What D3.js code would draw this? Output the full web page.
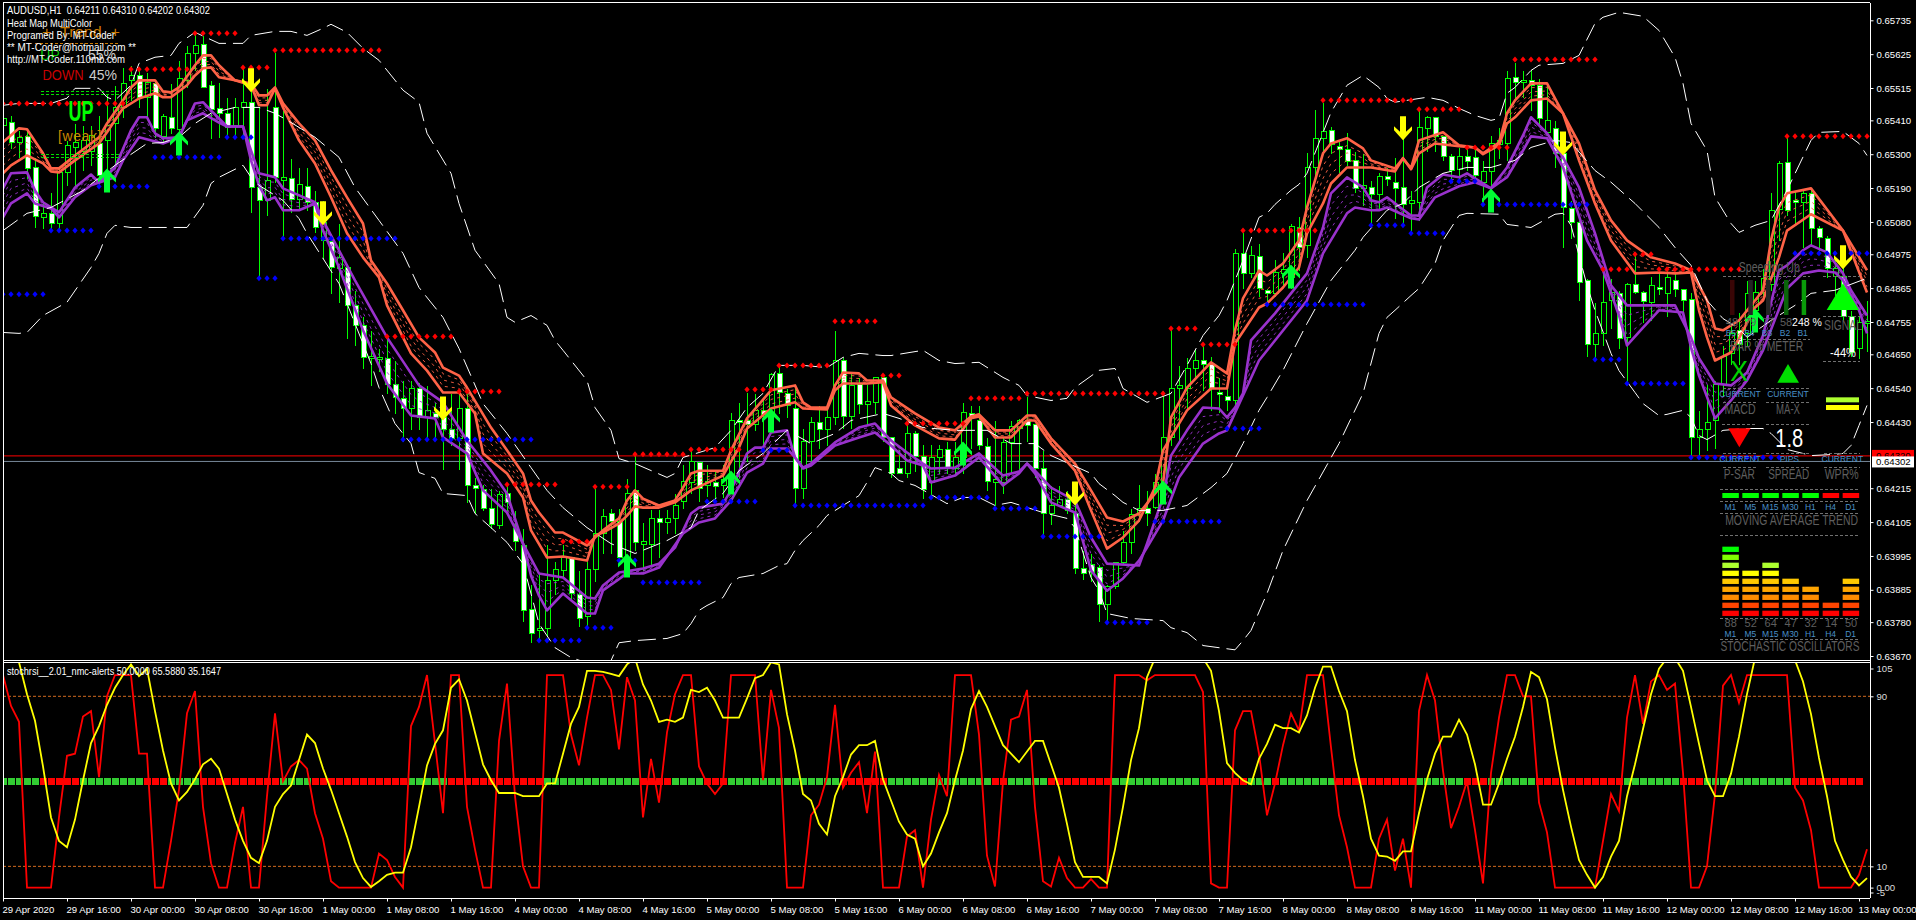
<!DOCTYPE html>
<html><head><meta charset="utf-8">
<style>html,body{margin:0;padding:0;background:#000;overflow:hidden}svg{display:block}text{font-family:"Liberation Sans",Arial,sans-serif;white-space:pre}</style>
<script src="https://cdnjs.cloudflare.com/ajax/libs/d3/7.8.5/d3.min.js"></script>
</head><body><svg id="c" width="1916" height="920"></svg>
<script>
// All prices are in points (1e-5).
const candleKinds="GWGWWGWGGG GGWGGGGWGW GWGGGWWWWG GWWGWGWGWW GWGWWWGGWW WGWGWWWGWW WWGWWWWGGG GWWGGGWWGW GGWGGGGWGW GGWWGWGWWW GGWGGWGWGG WWWGWWGGWG GWWWGGGGWW WGGWWWWWGG GGGWGGGGGG WWWWGWGWWG GGWGGGWWWW GWGWWWGGGW WWGWWGGGGW GWWGWWWWWG GGWGWWGWGW WWGGGGGWGG GGGWWGWWWG WWGG".replace(/ /g,"").split("");
const bodyTop=[65417,65404,65355,65358,65257,65108,65108,65241,65329,65339,65345,65361,65335,65394,65452,65530,65556,65556,65534,65530,65423,65420,65546,65628,65654,65657,65524,65449,65433,65452,65469,65469,65192,65215,65452,65225,65222,65202,65196,65144,65079,65017,64965,64932,64809,64744,64643,64640,64637,64552,64507,64542,64539,64468,64458,64445,64406,64477,64474,64227,64214,64152,64195,64198,64087,64029,63824,63762,63918,63951,63996,63990,63873,63951,64068,64126,64133,64110,64201,64208,64045,64117,64117,64117,64159,64237,64305,64299,64240,64234,64246,64435,64438,64438,64468,64468,64585,64588,64523,64477,64367,64429,64429,64445,64633,64633,64549,64555,64497,64575,64575,64383,64282,64393,64393,64321,64318,64344,64344,64318,64461,64458,64435,64351,64246,64364,64416,64435,64435,64425,64282,64162,64181,64181,64136,63957,63970,63960,63899,63974,64039,64130,64152,64152,64234,64380,64539,64549,64604,64633,64630,64620,64526,64516,64978,64978,64971,64968,64858,64916,64926,65066,65062,65257,65352,65374,65378,65326,65316,65280,65199,65192,65228,65228,65209,65192,65150,65387,65420,65420,65358,65293,65293,65293,65290,65244,65338,65345,65546,65550,65540,65540,65524,65410,65384,65303,65124,65079,64890,64718,64819,64851,64848,64880,64877,64851,64874,64870,64900,64893,64861,64831,64409,64429,64555,64646,64718,64728,64848,64851,64897,65118,65270,65274,65150,65173,65173,65059,65027,64929,64906,64773,64754,64757];
const bodyBottom=[65394,65339,65339,65254,65098,65095,65075,65075,65241,65322,65312,65312,65231,65345,65400,65452,65540,65485,65485,65384,65358,65384,65381,65540,65628,65517,65446,65433,65387,65394,65452,65192,65150,65150,65225,65215,65153,65153,65144,65062,65020,64932,64929,64809,64744,64640,64640,64637,64552,64510,64474,64474,64445,64445,64445,64406,64377,64377,64224,64217,64152,64100,64094,64169,64042,63821,63746,63756,63762,63918,63948,63876,63795,63801,63951,64068,64110,63990,63990,64039,64035,64035,64104,64104,64117,64172,64234,64217,64224,64221,64224,64250,64432,64425,64425,64455,64461,64526,64484,64217,64217,64367,64409,64409,64445,64451,64451,64490,64487,64494,64380,64266,64266,64263,64321,64211,64234,64318,64282,64282,64318,64445,64354,64240,64234,64234,64364,64412,64419,64282,64133,64133,64162,64143,63957,63941,63944,63840,63840,63899,63974,64039,64130,64136,64155,64217,64380,64539,64539,64604,64620,64539,64520,64500,64500,64913,64913,64864,64848,64848,64913,64900,64997,65004,65257,65352,65332,65316,65277,65189,65189,65170,65170,65218,65189,65137,65140,65144,65384,65358,65293,65248,65251,65277,65231,65209,65244,65332,65338,65534,65537,65524,65417,65371,65303,65127,65079,64884,64682,64682,64718,64828,64702,64705,64851,64822,64819,64867,64848,64861,64828,64380,64380,64409,64438,64555,64653,64685,64718,64793,64851,64880,65121,65118,65144,65144,65059,65030,64929,64906,64773,64656,64672,64754];
const wickHigh=[65465,65426,65378,65378,65290,65140,65176,65254,65345,65400,65394,65394,65426,65498,65524,65582,65589,65579,65566,65540,65433,65530,65605,65654,65693,65686,65540,65534,65485,65485,65579,65573,65452,65514,65631,65443,65287,65257,65257,65183,65150,65043,65075,64945,64858,64776,64728,64672,64702,64630,64565,64565,64559,64549,64494,64494,64523,64523,64523,64250,64230,64217,64208,64224,64143,64087,63905,63938,64035,63980,64035,63996,63948,63980,64217,64152,64152,64152,64247,64328,64104,64149,64149,64149,64198,64295,64338,64305,64295,64272,64295,64461,64494,64526,64523,64510,64591,64620,64542,64542,64412,64451,64484,64484,64728,64640,64591,64575,64555,64581,64581,64386,64344,64425,64403,64360,64360,64360,64370,64370,64494,64484,64484,64380,64435,64380,64435,64442,64516,64425,64338,64224,64224,64208,64169,64013,64003,63970,63905,63980,64078,64152,64230,64208,64266,64533,64734,64614,64640,64669,64679,64646,64575,64565,64994,65046,65004,65010,64867,64958,64981,65075,65098,65306,65446,65469,65391,65345,65371,65312,65303,65215,65241,65257,65290,65352,65183,65443,65426,65420,65361,65303,65322,65322,65322,65280,65361,65387,65573,65599,65573,65576,65546,65524,65410,65355,65150,65085,64897,64819,64916,64897,64858,64884,64971,64858,64906,64929,64929,64913,64864,64851,64468,64555,64565,64679,64744,64786,64890,64890,64929,65176,65280,65361,65183,65189,65189,65069,65036,64965,64955,64793,64776,64825];
const wickLow=[65312,65319,65290,65222,65062,65059,65059,65059,65199,65199,65248,65264,65192,65248,65264,65420,65475,65452,65420,65355,65335,65368,65345,65517,65573,65517,65352,65355,65352,65352,65355,65111,64897,65101,65209,65030,65111,65118,65118,65046,64962,64848,64819,64702,64679,64604,64549,64597,64523,64458,64370,64409,64409,64380,64377,64279,64354,64279,64169,64133,64143,64087,64087,64143,64013,63785,63714,63720,63736,63873,63925,63860,63769,63769,63915,64003,64003,63980,63957,64013,63948,63964,63990,64068,64068,64152,64198,64175,64191,64175,64185,64208,64250,64305,64403,64347,64403,64458,64445,64165,64182,64305,64347,64354,64425,64412,64412,64458,64419,64458,64370,64250,64263,64250,64272,64182,64185,64263,64263,64263,64263,64347,64344,64208,64159,64198,64263,64263,64370,64250,64061,64100,64159,64136,63938,63921,63915,63785,63785,63892,63970,64006,64110,64094,64152,64185,64354,64370,64468,64575,64533,64468,64461,64468,64468,64867,64900,64841,64819,64841,64874,64867,64923,64965,65225,65312,65303,65241,65264,65176,65134,65075,65118,65199,65092,65069,65053,65085,65312,65312,65280,65215,65209,65248,65225,65140,65189,65287,65280,65475,65485,65443,65394,65361,65257,64997,65027,64825,64646,64637,64679,64737,64669,64555,64848,64754,64760,64845,64776,64841,64760,64315,64315,64338,64347,64516,64620,64620,64679,64744,64825,64858,65020,65101,65069,64997,65004,64988,64900,64825,64760,64646,64637,64662];

const maFastUpper=[[0,65339],[2,65384],[3,65381],[5,65303],[6,65254],[7,65254],[9,65296],[12,65355],[13,65400],[15,65475],[16,65517],[17,65540],[19,65540],[20,65504],[21,65501],[22,65517],[24,65589],[25,65621],[26,65621],[27,65589],[29,65540],[31,65530],[32,65491],[33,65491],[34,65517],[35,65465],[37,65400],[39,65345],[41,65248],[43,65160],[45,65075],[46,64955],[48,64880],[50,64793],[52,64705],[54,64656],[55,64607],[57,64581],[58,64542],[61,64412],[63,64338],[65,64263],[66,64175],[67,64136],[69,64071],[70,64071],[73,64029],[74,64055],[75,64078],[77,64117],[78,64175],[79,64208],[80,64181],[82,64159],[84,64175],[85,64217],[86,64263],[87,64272],[90,64272],[91,64338],[93,64442],[96,64533],[99,64549],[100,64494],[101,64477],[103,64477],[104,64549],[105,64591],[107,64588],[108,64565],[110,64565],[111,64510],[114,64458],[117,64412],[119,64403],[121,64448],[122,64455],[124,64403],[126,64403],[128,64451],[129,64451],[131,64377],[134,64295],[136,64208],[138,64120],[140,64107],[142,64133],[145,64230],[146,64445],[148,64542],[151,64624],[153,64588],[154,64728],[155,64832],[157,64922],[158,64906],[160,64945],[162,65020],[163,65127],[165,65303],[166,65335],[168,65352],[170,65319],[171,65280],[174,65254],[175,65287],[176,65254],[177,65345],[180,65371],[182,65329],[184,65322],[185,65303],[187,65338],[188,65433],[189,65475],[191,65530],[193,65530],[195,65433],[197,65335],[199,65183],[201,65085],[203,65020],[206,64965],[209,64945],[211,64923],[213,64825],[214,64734],[215,64728],[217,64760],[219,64825],[220,64858],[221,65020],[222,65127],[223,65173],[226,65189],[230,65052],[233,64923]];
const maFastLower=[[0,65238],[1,65264],[3,65296],[5,65270],[6,65244],[7,65241],[9,65280],[12,65335],[13,65371],[15,65449],[17,65481],[19,65498],[20,65485],[21,65485],[23,65524],[24,65556],[25,65579],[26,65582],[27,65550],[29,65540],[31,65524],[32,65459],[33,65459],[34,65514],[35,65452],[37,65345],[39,65270],[41,65160],[43,65043],[45,64965],[47,64900],[48,64809],[51,64653],[53,64597],[55,64526],[57,64526],[59,64458],[60,64328],[63,64263],[65,64185],[66,64078],[68,63990],[70,63993],[73,63980],[74,64061],[75,64071],[77,64100],[78,64126],[79,64156],[80,64152],[82,64152],[84,64169],[86,64208],[90,64256],[92,64347],[93,64409],[96,64474],[99,64494],[100,64474],[103,64471],[104,64533],[105,64555],[108,64555],[110,64559],[111,64484],[114,64419],[117,64377],[119,64373],[121,64442],[122,64448],[124,64380],[126,64380],[128,64435],[129,64435],[131,64360],[134,64272],[136,64143],[138,64019],[140,64055],[142,64110],[144,64217],[145,64338],[148,64468],[151,64539],[153,64539],[154,64685],[157,64802],[158,64815],[160,64867],[162,64932],[163,65043],[165,65140],[166,65205],[168,65257],[171,65257],[174,65244],[175,65287],[176,65251],[177,65303],[179,65335],[182,65326],[184,65322],[185,65300],[187,65329],[188,65400],[189,65420],[191,65475],[193,65481],[195,65433],[197,65280],[199,65140],[201,65020],[204,64913],[207,64916],[209,64913],[211,64916],[212,64793],[213,64705],[214,64630],[216,64656],[217,64702],[219,64802],[220,64825],[222,64965],[223,65052],[226,65105],[230,65052],[233,64851]];
const maSlowUpper=[[0,65189],[1,65238],[3,65241],[4,65182],[5,65144],[7,65111],[9,65192],[11,65234],[12,65208],[14,65257],[16,65378],[17,65420],[18,65420],[19,65368],[20,65352],[22,65355],[24,65465],[25,65469],[26,65442],[28,65390],[30,65390],[31,65312],[32,65238],[34,65225],[35,65189],[39,65144],[40,65085],[44,64890],[48,64705],[52,64549],[55,64494],[58,64370],[61,64272],[63,64198],[65,64035],[67,63938],[70,63925],[73,63860],[74,63857],[75,63899],[77,63941],[80,63954],[82,63970],[84,64022],[86,64133],[87,64152],[90,64165],[91,64208],[93,64328],[94,64347],[95,64347],[96,64396],[98,64403],[99,64315],[100,64282],[101,64295],[104,64364],[107,64412],[109,64425],[111,64370],[113,64331],[115,64295],[116,64279],[119,64282],[122,64328],[125,64256],[127,64269],[128,64295],[129,64272],[131,64217],[134,64175],[136,64055],[138,63970],[142,63964],[143,64035],[145,64185],[146,64321],[148,64403],[150,64477],[152,64474],[153,64445],[154,64477],[155,64523],[156,64695],[159,64783],[163,64913],[165,65062],[166,65173],[168,65225],[170,65192],[171,65150],[172,65144],[173,65160],[176,65101],[177,65101],[178,65192],[180,65234],[182,65225],[183,65238],[186,65189],[188,65257],[190,65361],[191,65420],[193,65368],[195,65290],[197,65192],[199,65043],[201,64874],[203,64809],[209,64809],[211,64705],[212,64637],[214,64555],[216,64549],[218,64591],[220,64711],[222,64923],[223,64939],[225,64988],[226,65004],[228,64981],[230,64913],[231,64858],[233,64776]];
const maSlowLower=[[0,65095],[1,65140],[3,65173],[4,65140],[6,65124],[7,65095],[9,65160],[11,65199],[14,65225],[15,65280],[17,65355],[20,65335],[22,65355],[23,65410],[25,65433],[27,65403],[28,65390],[30,65390],[31,65280],[32,65199],[33,65150],[34,65160],[35,65118],[37,65118],[39,65140],[40,65052],[42,64932],[45,64728],[48,64555],[51,64451],[54,64442],[55,64380],[58,64328],[60,64208],[63,64136],[65,64035],[66,63931],[67,63866],[68,63818],[70,63873],[73,63808],[74,63808],[75,63883],[78,63938],[80,63938],[82,63957],[85,64068],[87,64104],[89,64117],[91,64175],[93,64266],[95,64295],[96,64344],[98,64344],[99,64315],[100,64279],[101,64289],[104,64354],[107,64380],[109,64396],[111,64354],[113,64305],[115,64289],[116,64234],[119,64256],[122,64315],[125,64224],[127,64263],[128,64295],[129,64263],[131,64169],[134,64136],[136,63948],[138,63882],[140,63922],[142,63980],[143,64022],[145,64110],[147,64250],[150,64360],[152,64393],[153,64403],[155,64516],[157,64630],[159,64695],[163,64825],[165,64978],[168,65108],[169,65127],[171,65118],[172,65118],[173,65127],[176,65092],[177,65088],[179,65160],[182,65196],[184,65209],[186,65189],[188,65225],[190,65312],[191,65358],[193,65352],[195,65257],[198,65020],[200,64923],[202,64776],[203,64679],[205,64737],[207,64793],[210,64786],[211,64672],[212,64581],[214,64442],[216,64500],[218,64565],[220,64663],[223,64864],[225,64913],[227,64922],[229,64916],[230,64890],[232,64793],[233,64718]];
const bollUpper=[[0,65459],[2,65465],[6,65465],[8,65482],[9,65514],[12,65514],[13,65485],[14,65475],[16,65524],[17,65595],[19,65615],[21,65621],[22,65660],[24,65696],[27,65660],[30,65660],[31,65686],[34,65699],[36,65699],[38,65686],[40,65709],[41,65722],[43,65696],[45,65644],[47,65605],[50,65508],[52,65469],[53,65368],[56,65238],[57,65140],[59,64988],[62,64880],[63,64770],[64,64754],[66,64776],[68,64744],[69,64695],[70,64663],[73,64565],[74,64477],[76,64403],[77,64311],[79,64295],[83,64250],[84,64263],[85,64315],[89,64347],[91,64403],[93,64477],[95,64523],[97,64614],[100,64614],[103,64607],[105,64640],[107,64653],[110,64646],[111,64646],[115,64663],[117,64630],[119,64620],[122,64624],[125,64575],[127,64549],[128,64516],[131,64500],[133,64507],[134,64542],[137,64598],[139,64604],[140,64539],[143,64494],[146,64523],[148,64614],[150,64711],[152,64776],[153,64825],[155,64955],[157,65095],[158,65108],[159,65137],[161,65183],[162,65202],[163,65238],[166,65436],[168,65524],[170,65556],[172,65517],[173,65481],[174,65469],[178,65485],[180,65475],[182,65449],[184,65426],[186,65410],[187,65416],[188,65498],[189,65517],[191,65572],[192,65589],[195,65595],[197,65621],[199,65725],[200,65745],[202,65761],[205,65748],[207,65702],[209,65615],[210,65530],[211,65400],[213,65312],[214,65160],[216,65075],[217,65046],[219,65069],[221,65085],[223,65183],[226,65345],[227,65371],[230,65374],[232,65335],[233,65296]];
const bollMiddle=[[0,65052],[3,65108],[6,65127],[10,65182],[14,65264],[18,65335],[20,65338],[22,65355],[24,65400],[26,65433],[29,65452],[32,65452],[34,65433],[36,65403],[39,65355],[42,65290],[44,65192],[47,65085],[50,64978],[52,64867],[55,64770],[57,64669],[60,64490],[63,64393],[66,64282],[68,64208],[70,64152],[73,64087],[76,64035],[79,64003],[83,64045],[86,64087],[87,64143],[90,64198],[92,64272],[95,64328],[98,64403],[101,64360],[104,64393],[106,64435],[110,64458],[112,64442],[115,64412],[119,64403],[123,64403],[126,64360],[129,64360],[131,64321],[136,64263],[137,64230],[139,64191],[140,64169],[142,64143],[145,64143],[148,64159],[151,64217],[153,64263],[155,64360],[157,64468],[158,64510],[160,64598],[163,64750],[166,64890],[169,64988],[170,65030],[173,65118],[175,65140],[177,65192],[180,65238],[183,65257],[186,65257],[189,65280],[191,65322],[194,65345],[196,65338],[199,65247],[201,65209],[204,65140],[207,65062],[209,64997],[211,64939],[213,64825],[215,64766],[217,64734],[218,64705],[221,64760],[224,64809],[226,64848],[229,64858],[233,64897]];
const bollLower=[[0,64721],[2,64718],[3,64721],[5,64776],[8,64819],[11,64932],[12,64978],[13,65043],[14,65069],[16,65062],[19,65062],[23,65062],[25,65134],[26,65205],[27,65225],[30,65264],[31,65225],[32,65199],[35,65150],[37,65091],[38,65043],[42,64880],[44,64750],[46,64620],[47,64542],[49,64425],[51,64360],[52,64266],[54,64247],[55,64198],[58,64191],[59,64133],[61,64087],[63,64039],[65,63970],[67,63775],[69,63697],[71,63665],[74,63639],[76,63655],[77,63713],[79,63720],[83,63727],[85,63743],[86,63775],[87,63818],[88,63834],[90,63860],[91,63905],[92,63925],[95,63938],[97,63964],[98,63970],[99,64013],[100,64045],[102,64094],[103,64126],[105,64159],[107,64191],[108,64234],[109,64282],[111,64263],[112,64240],[114,64224],[118,64165],[120,64185],[122,64185],[124,64159],[126,64169],[130,64136],[133,64117],[134,64087],[136,63925],[137,63882],[138,63808],[141,63792],[145,63785],[146,63762],[148,63746],[150,63704],[152,63697],[154,63690],[155,63720],[156,63753],[158,63873],[160,64013],[163,64175],[167,64360],[170,64523],[172,64718],[173,64770],[174,64793],[176,64841],[177,64864],[179,64945],[180,65020],[182,65101],[183,65108],[187,65105],[188,65072],[191,65062],[194,65105],[195,65108],[196,65069],[198,64874],[199,64793],[201,64653],[202,64597],[204,64526],[205,64490],[207,64451],[208,64455],[210,64468],[211,64445],[212,64386],[213,64373],[215,64403],[218,64409],[220,64409],[221,64393],[223,64341],[225,64328],[226,64321],[229,64325],[230,64328],[231,64354],[232,64419],[233,64484]];

const redDotRuns=[[0,15,65465],[16,23,65576],[24,29,65693],[30,33,65582],[34,47,65638],[48,56,64708],[57,62,64529],[63,69,64227],[70,73,64042],[74,78,64220],[79,85,64325],[86,92,64341],[93,96,64536],[97,103,64614],[104,109,64757],[110,112,64581],[113,120,64425],[121,127,64507],[128,145,64523],[146,149,64734],[150,154,64682],[155,164,65052],[165,176,65475],[177,182,65446],[183,188,65322],[189,199,65608],[200,203,64926],[204,206,64975],[207,217,64926],[223,233,65358]];
const blueDotRuns=[[0,5,64845],[6,11,65052],[12,18,65195],[19,27,65290],[28,31,65355],[32,34,64897],[35,49,65026],[50,66,64373],[67,72,63720],[73,76,63762],[77,79,63980],[80,87,63909],[88,94,64172],[95,98,64338],[99,115,64159],[116,123,64185],[124,129,64149],[130,137,64058],[138,143,63779],[144,152,64107],[153,157,64409],[158,170,64812],[171,175,65069],[176,180,65043],[181,184,65212],[185,198,65137],[199,202,64633],[203,210,64555],[211,222,64315],[224,233,64978]];
const upArrows=[[13,65215],[22,65335],[78,63964],[91,64234],[96,64435],[120,64328],[145,64201],[161,64903],[186,65150],[219,64760]];
const downArrows=[[31,65540],[40,65108],[55,64474],[134,64198],[175,65384],[195,65335],[230,64965]];

const stochK=[100,85.5,78,0,0,0,0,33,62,63,80.5,83,52,90,100,100,100,63,63,0,0,22,46,82,92.5,38,11.5,0,0,21,38,0,0,43,82,50,57,60,56,35,23,3,0,0,0,0,0,16,13,5,0,76,85,100,68,35,100,100,38,18,0,0,69,96,43,10,0,0,100,100,100,72,57.5,80,100,100,93,65,99,88,33,60.6,40,73,91,100,100,57,49,44,49,100,100,100,100,50.5,93,75,0,0,0,34,39,52,86,47,54,59,35,64,0,0,0,24,27,0,32,53,43,100,100,100,72,15,0.5,50,79,80.5,93,38,3,0.5,14,4.5,0,0,4,0,0,100,100,100,100,97.5,100,100,100,100,100,100,92,2,0,0,74,83,83,63,34,49,67,82,74,100,100,100,66,34,19,0,0,0,23,32,8,23,0,83,100,88,55,28,38,50,27,2,54,80,100,100,90,90,40,26,0,0,0,0,0,0,22,44,36,80,100,77,97,100,93,96,54,0,0,10,44,95,100,87,100,100,100,100,100,100,47,41,27,0,0,0,0,0,6,18];
const stochD=[115,112,106,91,78.5,57,33,22,19,32,50.5,68,76,86,94,100,105,99.5,103,83,64.5,49,41,45,51,58,60.6,56,44,32,22,14,11.5,22,38,44,48,60,72,68,56,46,35,24,12,4.5,0.3,3,6,7,7,19,38,57.5,67.6,74,94,98,88,73,58,50.5,44.5,44.5,44.5,43,43,43,49,49,63,77,85,102,102,101.5,100.6,99.5,105,108,95.6,88,78,79,78,80,93,92,94,88,80,80,80,89,98.5,100,106,105,81.6,64.5,44,41,30,25,43,52,62.6,67,67,69,51,41,31,25,23,10,16,26,35,50.5,64.5,84,92.5,85,76,67,63,59,64,69,69,58,47,30,12,5,5,5,2,18,38,60,75,99,108,110,115,115,115,112,108,102,83,58.6,54,50.5,48.6,60.6,67.6,76.6,75,75,73,81,94,104,104,92.5,83,60,43,23,15,14.6,12.6,17,17,35,51,63,71,71,79,72,58,39,39,49,60.6,71,85,101.5,99,88.6,66,46,28.7,13,6,0,5,14.6,22,43,58,74.6,91,103,108,108,102,85,67.6,50.5,43,43,53.6,71,91,108,112,112,110,110,107,97,81.6,61,43,22,13,5,1,4.5];
const midlineGreenRuns=[[0,4],[10,17],[21,24],[35,38],[51,55],[68,79],[84,87],[91,104],[111,123],[126,130],[139,149],[156,158],[160,166],[177,182],[186,191],[203,209],[213,223]];

const dateLabels=["29 Apr 2020","29 Apr 16:00","30 Apr 00:00","30 Apr 08:00","30 Apr 16:00","1 May 00:00","1 May 08:00","1 May 16:00","4 May 00:00","4 May 08:00","4 May 16:00","5 May 00:00","5 May 08:00","5 May 16:00","6 May 00:00","6 May 08:00","6 May 16:00","7 May 00:00","7 May 08:00","7 May 16:00","8 May 00:00","8 May 08:00","8 May 16:00","11 May 00:00","11 May 08:00","11 May 16:00","12 May 00:00","12 May 08:00","12 May 16:00","13 May 00:00"];
const priceTicks=[65735,65625,65515,65410,65300,65190,65080,64975,64865,64755,64650,64540,64430,64215,64105,63995,63885,63780,63670];
const bidPrice=64320, lastPrice=64302;
const oscTicks=[["105",105],["90",90],["10",10],["0.00",0],["-5",-2.3]];
const tfLabels=["M1","M5","M15","M30","H1","H4","D1"];
const maTrendUp=[true,true,true,true,true,false,false];
const stochValues=[88,52,64,47,32,14,50];
const stochLevels=[9,6,7,5,4,2,5];
const stochLevelColors=["#ff0000","#ff4500","#ff8c00","#ffa500","#ffc800","#ffff00","#adff2f","#7fff00","#00ff00"];
const barMeterLabels=["B5","B4","B3","B2","B1"];
const barMeterValues=["48","79","77","58","248"];
const barMeterColors=["#3a0606","#242424","#242424","#0a640a","#0a9c0a"];

const W=1916,H=920,L=3,R=1870;
const svg=d3.select("#c");
svg.append("rect").attr("width",W).attr("height",H).attr("fill","#000");
const defs=svg.append("defs");
defs.append("clipPath").attr("id","cm").append("rect").attr("x",L).attr("y",3).attr("width",R-L).attr("height",657);
defs.append("clipPath").attr("id","cs").append("rect").attr("x",L).attr("y",663).attr("width",R-L).attr("height",235);

const x=d3.scaleLinear().domain([0,232]).range([3,1859]);
const y=d3.scaleLinear().domain([65735,63670]).range([20.3,656]);
const yo=d3.scaleLinear().domain([0,90]).range([887.6,696.3]);
const px=v=>Math.round(x(v))+.5, py=v=>Math.round(y(v))+.5;
const main=svg.append("g").attr("clip-path","url(#cm)");
const sub=svg.append("g").attr("clip-path","url(#cs)");

// Horizontal price lines
main.append("line").attr("x1",L).attr("x2",R).attr("y1",y(bidPrice)).attr("y2",y(bidPrice)).attr("stroke","#ff0000");
main.append("line").attr("x1",L).attr("x2",R).attr("y1",y(lastPrice)).attr("y2",y(lastPrice)).attr("stroke","#778899");

// Candles
const idx=d3.range(candleKinds.length);
const cg=main.append("g").attr("shape-rendering","crispEdges");
cg.selectAll("line").data(idx).join("line")
 .attr("x1",px).attr("x2",px).attr("y1",i=>py(wickHigh[i])).attr("y2",i=>py(wickLow[i])).attr("stroke","#00ff00");
cg.selectAll("rect").data(idx).join("rect")
 .attr("x",i=>px(i)-2.5).attr("width",5).attr("y",i=>py(bodyTop[i]))
 .attr("height",i=>Math.max(2,py(bodyBottom[i])-py(bodyTop[i])))
 .attr("fill",i=>candleKinds[i]==="W"?"#fff":"#000").attr("stroke","#00ff00");

// Moving-average ribbons
const ln=d3.line().x(d=>x(d[0])).y(d=>y(d[1]));
function ribbon(a,b,col,w){
  const sa=d3.scaleLinear().domain(a.map(d=>d[0])).range(a.map(d=>d[1]));
  const sb=d3.scaleLinear().domain(b.map(d=>d[0])).range(b.map(d=>d[1]));
  [0.25,0.5,0.75].forEach(t=>{
    const m=idx.map(i=>[i,sa(i)*(1-t)+sb(i)*t]);
    main.append("path").attr("d",ln(m)).attr("fill","none").attr("stroke",col).attr("stroke-width",.9).attr("stroke-dasharray","3,4");
  });
  [a,b].forEach(s=>main.append("path").attr("d",ln(s)).attr("fill","none").attr("stroke",col).attr("stroke-width",w).attr("stroke-linejoin","round"));
}
ribbon(maFastUpper,maFastLower,"#ff6347",2.6);
ribbon(maSlowUpper,maSlowLower,"#9932cc",2.6);

// Bollinger
[bollUpper,bollMiddle,bollLower].forEach(s=>main.append("path").attr("d",ln(s)).attr("fill","none").attr("stroke","#fff").attr("stroke-width",1).attr("stroke-dasharray","18,7"));

// Level dots
const diamond="M0,-3L2.6,0L0,3L-2.6,0Z";
function dots(runs,col){
  const pts=runs.flatMap(r=>d3.range(r[0],r[1]+1).map(i=>[i,r[2]]));
  main.append("g").selectAll("path").data(pts).join("path").attr("d",diamond)
    .attr("transform",d=>`translate(${x(d[0])},${y(d[1])})`).attr("fill",col);
}
dots(redDotRuns,"#ff0000");dots(blueDotRuns,"#0000ff");

// Arrows
const arrowPath="M0,-12L9,-2L9,2L3,-3.5L3,12L-3,12L-3,-3.5L-9,2L-9,-2Z";
main.append("g").selectAll("path").data(upArrows).join("path").attr("d",arrowPath).attr("fill","#00ff33")
  .attr("transform",d=>`translate(${x(d[0])},${y(d[1])})`);
main.append("g").selectAll("path").data(downArrows).join("path").attr("d",arrowPath).attr("fill","#ffff00")
  .attr("transform",d=>`translate(${x(d[0])},${y(d[1])}) rotate(180)`);

// Oscillator
[90,10].forEach(v=>sub.append("line").attr("x1",L).attr("x2",R).attr("y1",yo(v)).attr("y2",yo(v)).attr("stroke","#d2691e").attr("stroke-dasharray","3,2"));
const isGreen=i=>midlineGreenRuns.some(r=>i>=r[0]&&i<=r[1]);
sub.append("g").attr("shape-rendering","crispEdges").selectAll("rect").data(idx.slice(0,233)).join("rect")
  .attr("x",i=>Math.round(x(i))-3).attr("width",6.5).attr("y",777.5).attr("height",7.5)
  .attr("fill",i=>isGreen(i)?"#32cd32":"#ff0000");
const oline=d3.line().x((d,i)=>x(i)).y(d=>yo(d));
sub.append("path").attr("d",oline(stochK)).attr("fill","none").attr("stroke","#ff0000").attr("stroke-width",1.8);
sub.append("path").attr("d",oline(stochD)).attr("fill","none").attr("stroke","#ffff00").attr("stroke-width",1.8);

// Frames
const fr=svg.append("g").attr("stroke","#fff").attr("shape-rendering","crispEdges");
[[L,2.5,R,2.5],[L,660.5,R,660.5],[L,662.5,R,662.5],[L+.5,2.5,L+.5,898],[R+.5,2.5,R+.5,898]].forEach(a=>fr.append("line").attr("x1",a[0]).attr("y1",a[1]).attr("x2",a[2]).attr("y2",a[3]));

// Axes
const AF=9.6;
const ay=svg.append("g").attr("transform",`translate(${R+.5},0)`).call(d3.axisRight(y).tickValues(priceTicks).tickSize(3).tickPadding(3).tickFormat(v=>(v/1e5).toFixed(5)));
ay.select(".domain").remove();ay.selectAll("line").attr("stroke","#fff");ay.selectAll("text").attr("fill","#fff").attr("font-size",AF).attr("font-family","Liberation Sans");
const ax=svg.append("g").attr("transform","translate(0,898.5)").call(d3.axisBottom(x).tickValues(dateLabels.map((d,i)=>i*8)).tickSize(3).tickPadding(5).tickFormat((d,i)=>dateLabels[i]));
ax.select(".domain").attr("stroke","#fff").attr("d",`M${L},0H${R}`);ax.selectAll("line").attr("stroke","#fff");
ax.selectAll("text").attr("fill","#fff").attr("font-size",AF).attr("font-family","Liberation Sans").attr("text-anchor","start").attr("dx",-1);
const ao=svg.append("g").attr("transform",`translate(${R+.5},0)`).call(d3.axisRight(yo).tickValues(oscTicks.map(d=>d[1])).tickSize(3).tickPadding(3).tickFormat((d,i)=>oscTicks[i][0]));
ao.select(".domain").remove();ao.selectAll("line").attr("stroke","#fff");ao.selectAll("text").attr("fill","#ddd").attr("font-size",AF).attr("font-family","Liberation Sans");
ao.selectAll(".tick").filter((d,i)=>i===0).attr("transform",`translate(0,669)`);

// price boxes
const bx=svg.append("g").attr("font-size",AF).attr("font-family","Liberation Sans");
bx.append("rect").attr("x",R+2).attr("y",y(bidPrice)-6).attr("width",42).attr("height",10).attr("fill","#ff0000");
bx.append("text").attr("x",R+6).attr("y",y(bidPrice)+3).attr("fill","#000").text((bidPrice/1e5).toFixed(5));
bx.append("rect").attr("x",R+2).attr("y",y(lastPrice)-5).attr("width",42).attr("height",11).attr("fill","#fff");
bx.append("text").attr("x",R+6).attr("y",y(lastPrice)+4).attr("fill","#000").text((lastPrice/1e5).toFixed(5));

// text helpers
const t=svg.append("g");
function T(s,xx,yy,fs,col,opt={}){const e=t.append("text").attr("x",xx).attr("y",yy).attr("font-size",fs).attr("fill",col).attr("dominant-baseline","middle").text(s);
  if(opt.a)e.attr("text-anchor",opt.a);if(opt.b)e.attr("font-weight","bold");if(opt.ls)e.attr("letter-spacing",opt.ls);
  if(opt.tl)e.attr("textLength",opt.tl).attr("lengthAdjust","spacingAndGlyphs");
  return e;}
function D(x1,x2,yy,col="#707070"){t.append("line").attr("x1",x1).attr("x2",x2).attr("y1",yy).attr("y2",yy).attr("stroke",col).attr("stroke-dasharray","3,2").attr("shape-rendering","crispEdges");}

// Trend panel (top-left)
T("+  Trend  +",81,33,14,"#cc7a00",{a:"middle",tl:78});
D(35,120,43.5,"#cc7a00");
T("UP",50,56,14,"#00c800",{a:"middle"});T("55%",102,56,14,"#cccccc",{a:"middle"});
T("DOWN",63,76,14,"#cc0000",{a:"middle",tl:41});T("45%",103,76,14,"#cccccc",{a:"middle"});
D(41,120,91.5,"#00e000");D(41,120,94.5,"#00e000");
T("UP",81,113,30,"#00ff00",{a:"middle",b:1,tl:25});
T("[weak]",80,137,14,"#cc8800",{a:"middle",ls:.6});
D(41,120,154.5,"#00e000");D(41,120,157.5,"#00e000");
T("AUDUSD,H1  0.64211 0.64310 0.64202 0.64302",7,11,10.4,"#fff",{tl:203});
T("Heat Map MultiColor",7,24,10.4,"#fff",{tl:85});
T("Programed By: MT-Coder",7,36,10.4,"#fff",{tl:108});
T("** MT-Coder@hotmail.com **",7,48,10.4,"#fff",{tl:129});
T("http://MT-Coder.110mb.com",7,60,10.4,"#fff",{tl:118});
T("stochrsi__2.01_nmc-alerts 50.0000 65.5880 35.1647",7,672,10.4,"#fff",{tl:214});

// Dashboard
const dx=z=>1660+z/3, dy=z=>240+z/3;
const GREY="#5e5e5e",BLUE="#4a90c8",LAB=15;
T("Speeding Up",dx(328),dy(85),14,GREY,{a:"middle",tl:61});
D(dx(188),dx(450),dy(108)+.5);
const barZ=[210,265,318,372,425];
barZ.forEach((z,i)=>{t.append("rect").attr("x",dx(z)).attr("y",dy(120)).attr("width",4.5).attr("height",35).attr("fill",barMeterColors[i]);
  T(barMeterValues[i]+(i===4?" %":""),dx(z+6+(i===4?10:0)),dy(250),i===4?10.5:11,i===4?"#fff":GREY,{a:"middle"});
  T(barMeterLabels[i],dx(z+3),dy(281),8.5,BLUE,{a:"middle"});});
D(dx(188),dx(450),dy(297)+.5);
T("BAR % METER",dx(320),dy(320),LAB,GREY,{a:"middle",tl:73});
// signal
D(dx(490),dx(600),dy(108)+.5);
const tri=(a,b,c,col)=>t.append("path").attr("d",`M${dx(a[0])},${dy(a[1])}L${dx(b[0])},${dy(b[1])}L${dx(c[0])},${dy(c[1])}Z`).attr("fill",col);
tri([549,130],[500,210],[597,210],"#00ff00");
D(dx(490),dx(600),dy(228)+.5);
T("SIGNAL",dx(549),dy(258),LAB,GREY,{a:"middle",tl:38});
T("-44%",dx(549),dy(340),13,"#fff",{a:"middle",tl:26});
D(dx(490),dx(600),dy(363)+.5);
// MACD, MA-X
T("X",dx(237),dy(400),29,"#00d000",{a:"middle",tl:18});
D(dx(188),dx(290),dy(445)+.5);
T("CURRENT",dx(240),dy(465),8.5,BLUE,{a:"middle"});
D(dx(188),dx(290),dy(485)+.5);
T("MACD",dx(240),dy(510),LAB,GREY,{a:"middle",tl:31});
tri([384,372],[352,428],[417,428],"#00e000");
D(dx(318),dx(450),dy(445)+.5);
T("CURRENT",dx(384),dy(465),8.5,BLUE,{a:"middle"});
D(dx(318),dx(450),dy(485)+.5);
T("MA-X",dx(384),dy(510),LAB,GREY,{a:"middle",tl:24});
t.append("rect").attr("x",dx(498)).attr("y",dy(472)).attr("width",33).attr("height",5).attr("fill","#adff2f");
t.append("rect").attr("x",dx(498)).attr("y",dy(495)).attr("width",33).attr("height",5).attr("fill","#ffff00");
// P-SAR, spread, WPR
D(dx(185),dx(290),dy(553)+.5);D(dx(318),dx(450),dy(553)+.5);
tri([205,565],[272,565],[238,622],"#ff0000");
T("1.8",dx(388),dy(600),25,"#fff",{a:"middle",tl:28});
[[240,"CURRENT","P-SAR",188,290,31],[388,"PIPS","SPREAD",318,450,41],[547,"CURRENT","WPR%",492,600,34]].forEach(a=>{
  D(dx(a[3]),dx(a[4]),dy(640)+.5);
  T(a[1],dx(a[0]),dy(660),8.5,BLUE,{a:"middle"});
  D(dx(a[3]),dx(a[4]),dy(680)+.5);
  T(a[2],dx(a[0]-2),dy(705),LAB,GREY,{a:"middle",tl:a[5]});
});
// MA trend
D(dx(180),dx(600),dy(748)+.5);
const colZ=[187,247,307,367,427,488,548];
colZ.forEach((z,i)=>{
  t.append("rect").attr("x",dx(z)).attr("y",dy(759)).attr("width",16.5).attr("height",5).attr("fill",maTrendUp[i]?"#00ff00":"#ff0000");
  T(tfLabels[i],dx(z+24),dy(802),8.5,BLUE,{a:"middle"});
  d3.range(stochLevels[i]).forEach(l=>{
    t.append("rect").attr("x",dx(z)).attr("y",dy(1112-24*l)).attr("width",16.5).attr("height",5.3).attr("fill",stochLevelColors[l]);
  });
  T(String(stochValues[i]),dx(z+25),dy(1153),11,GREY,{a:"middle"});
  T(tfLabels[i],dx(z+24),dy(1183),8.5,BLUE,{a:"middle"});
});
D(dx(180),dx(600),dy(783)+.5);D(dx(180),dx(600),dy(818)+.5);
T("MOVING AVERAGE TREND",dx(395),dy(842),LAB,GREY,{a:"middle",tl:133});
D(dx(180),dx(600),dy(885)+.5);
D(dx(180),dx(600),dy(1135)+.5);D(dx(180),dx(600),dy(1197)+.5);
T("STOCHASTIC OSCILLATORS",dx(390),dy(1220),LAB,GREY,{a:"middle",tl:139});
</script></body></html>
